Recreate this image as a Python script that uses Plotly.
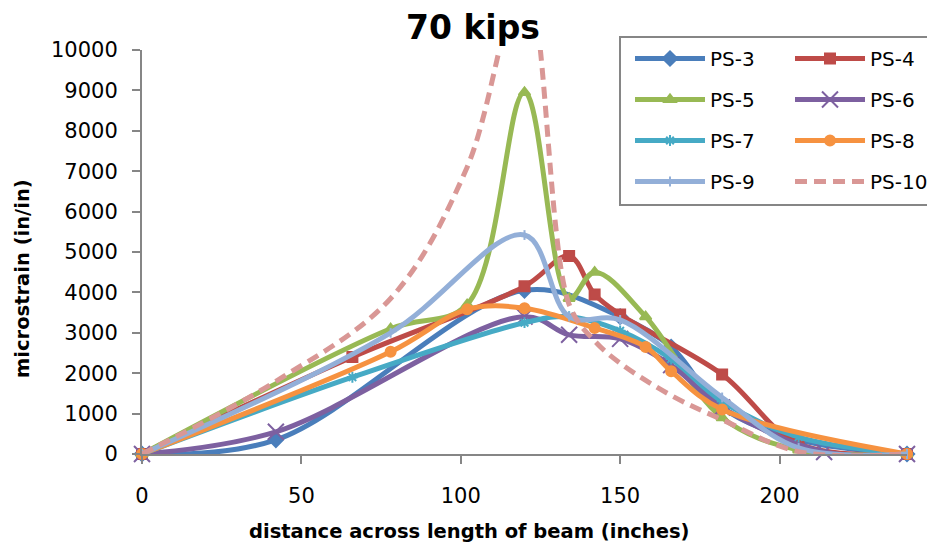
import plotly.graph_objects as go

# ---- data ----
ps3_x = [0, 42, 120, 150, 166, 182, 206, 240]
ps3_y = [0, 350, 4050, 3400, 2650, 1150, 350, 0]

ps4_x = [0, 66, 120, 134, 142, 150, 182, 206, 240]
ps4_y = [0, 2400, 4150, 4900, 3950, 3450, 1970, 250, 0]

ps5_x = [0, 78, 102, 120, 134, 142, 158, 182, 206, 240]
ps5_y = [0, 3100, 3700, 8950, 3850, 4500, 3400, 900, 100, 0]

ps6_x = [0, 42, 120, 134, 150, 166, 182, 214, 240]
ps6_y = [0, 550, 3400, 2950, 2850, 2200, 1150, 50, 0]

ps7_x = [0, 66, 120, 134, 150, 166, 182, 206, 240]
ps7_y = [0, 1900, 3250, 3400, 3050, 2350, 1300, 420, 0]

ps8_x = [0, 78, 102, 120, 142, 158, 166, 182, 240]
ps8_y = [0, 2530, 3580, 3610, 3120, 2650, 2050, 1100, 0]

ps9_x = [0, 78, 120, 134, 150, 182, 206, 240]
ps9_y = [0, 3000, 5420, 3400, 3320, 1400, 150, 0]

ps10_x = [0, 42, 78, 102, 120, 134, 142, 150, 166, 182, 206, 240]
ps10_y = [0, 1800, 3850, 7100, 11800, 3700, 2800, 2250, 1450, 850, 60, 0]

x_ticks = [0, 50, 100, 150, 200]
y_ticks = [0, 1000, 2000, 3000, 4000, 5000, 6000, 7000, 8000, 9000, 10000]
y_ticktext = [str(v) for v in y_ticks]

series = [
    ("PS-3", ps3_x, ps3_y, "#4A7EBB", "diamond", 11, None, "legend"),
    ("PS-4", ps4_x, ps4_y, "#BE4B48", "square", 10, None, "legend2"),
    ("PS-5", ps5_x, ps5_y, "#98B954", "triangle-up", 10, None, "legend"),
    ("PS-6", ps6_x, ps6_y, "#7D60A0", "x-thin-open", 16, None, "legend2"),
    ("PS-7", ps7_x, ps7_y, "#46AAC5", "asterisk-open", 9, None, "legend"),
    ("PS-8", ps8_x, ps8_y, "#F69240", "circle", 10, None, "legend2"),
    ("PS-9", ps9_x, ps9_y, "#93AFD8", "line-ns-open", 7, None, "legend"),
    ("PS-10", ps10_x, ps10_y, "#D99795", None, 0, "12px,7px", "legend2"),
]

FONT = "DejaVu Sans"
fig = go.Figure()
for name, xs, ys, color, sym, size, dash, leg in series:
    kw = dict(x=xs, y=ys, name=name, cliponaxis=False, legend=leg, legendgroup=name,
              line=dict(color=color, width=5, shape="spline", smoothing=1.0,
                        dash=dash if dash else "solid"))
    if sym:
        kw["mode"] = "lines+markers"
        kw["marker"] = dict(symbol=sym, size=size, color=color,
                            line=dict(color=color, width=2))
    else:
        kw["mode"] = "lines"
    fig.add_trace(go.Scatter(**kw))

axis_common = dict(showline=True, linecolor="#868686", linewidth=2,
                   ticks="outside", tickcolor="#868686", ticklen=8, tickwidth=2,
                   showgrid=False, zeroline=False,
                   tickfont=dict(family=FONT, size=21, color="black"))

def px_x(p):
    return (p - 142) / 765

def px_y(p):
    return (454 - p) / 404

leg_common = dict(orientation="v", yanchor="top", xanchor="left",
                  itemwidth=70, bgcolor="rgba(0,0,0,0)", borderwidth=0,
                  tracegroupgap=12, traceorder="grouped",
                  font=dict(family=FONT, size=20, color="black"))

fig.update_layout(
    width=927, height=547,
    margin=dict(l=142, r=20, t=50, b=93, autoexpand=False),
    paper_bgcolor="white", plot_bgcolor="white",
    font=dict(family=FONT, color="black"),
    xaxis=dict(range=[0, 240], tickvals=x_ticks, ticklabelstandoff=14, **axis_common),
    yaxis=dict(range=[0, 10000], tickvals=y_ticks, ticktext=y_ticktext,
               ticklabelstandoff=10, **axis_common),
    showlegend=True,
    legend=dict(x=px_x(630), y=px_y(39), **leg_common),
    legend2=dict(x=px_x(790), y=px_y(39), **leg_common),
    shapes=[dict(type="rect", xref="paper", yref="paper", layer="above",
                 x0=px_x(620), x1=px_x(940), y0=px_y(205), y1=px_y(37),
                 line=dict(color="#868686", width=2), fillcolor="white")],
    annotations=[
        dict(text="<b>70 kips</b>", xref="paper", yref="paper",
             x=px_x(473), y=px_y(28), xanchor="center", yanchor="middle",
             showarrow=False, font=dict(family=FONT, size=33, color="black")),
        dict(text="<b>distance across length of beam (inches)</b>", xref="paper", yref="paper",
             x=px_x(469), y=px_y(531), xanchor="center", yanchor="middle",
             showarrow=False, font=dict(family=FONT, size=19.5, color="black")),
        dict(text="<b>microstrain (in/in)</b>", xref="paper", yref="paper",
             x=px_x(22), y=px_y(279), xanchor="center", yanchor="middle",
             textangle=-90, showarrow=False, font=dict(family=FONT, size=19.5, color="black")),
    ],
)

fig.write_html("out.html")
